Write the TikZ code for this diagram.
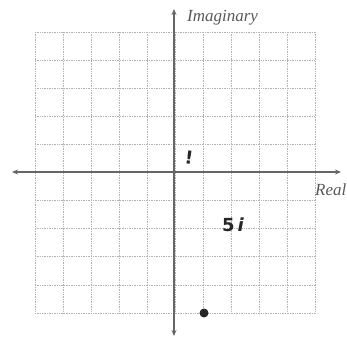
\documentclass[tikz,border=0pt]{standalone}
\usepackage{fontspec}
\setmainfont{Liberation Serif}
\newfontfamily\handfont{DejaVu Sans}
\usetikzlibrary{arrows.meta}
\begin{document}
\begin{tikzpicture}[x=1pt,y=-1pt,
  gridline/.style={gray!60, densely dotted, line width=0.7pt},
  axisline/.style={gray!80!black, line width=1.4pt, -{Stealth[length=6pt,width=5pt]}},
  axislabel/.style={font=\itshape\fontsize{17}{19}\selectfont, text=gray!70!black, inner sep=0pt},
  hand/.style={font=\handfont\bfseries\fontsize{18}{20}\selectfont, text=black!85, inner sep=0pt}]
\useasboundingbox (0,0) rectangle (347,337);
\clip (0,0) rectangle (347,337);
% grid
\foreach \i in {0,...,10} {
  \draw[gridline] ({35+28*\i},32) -- ({35+28*\i},313);
  \draw[gridline] (35,{32+28.1*\i}) -- (315,{32+28.1*\i});
}
% axes
\coordinate (xl) at (12,172);
\coordinate (xr) at (341,172);
\coordinate (yt) at (174,9);
\coordinate (yb) at (174,336);
\draw[axisline] (174,172) -- (xr);
\draw[axisline] (174,172) -- (xl);
\draw[axisline] (174,172) -- (yt);
\draw[axisline] (174,172) -- (yb);
% labels
\node[axislabel, anchor=base west] (im) at (187,22) {Imaginary};
\node[axislabel, anchor=base west] (re) at (315,195) {Real};
\node[hand, rotate=-8] (excl) at (189,158) {!};
\node[hand] (five) at (233,225) {5\,\textit{i}};
% point
\fill[black!85] (204,313) circle (4.5);
\end{tikzpicture}
\end{document}
